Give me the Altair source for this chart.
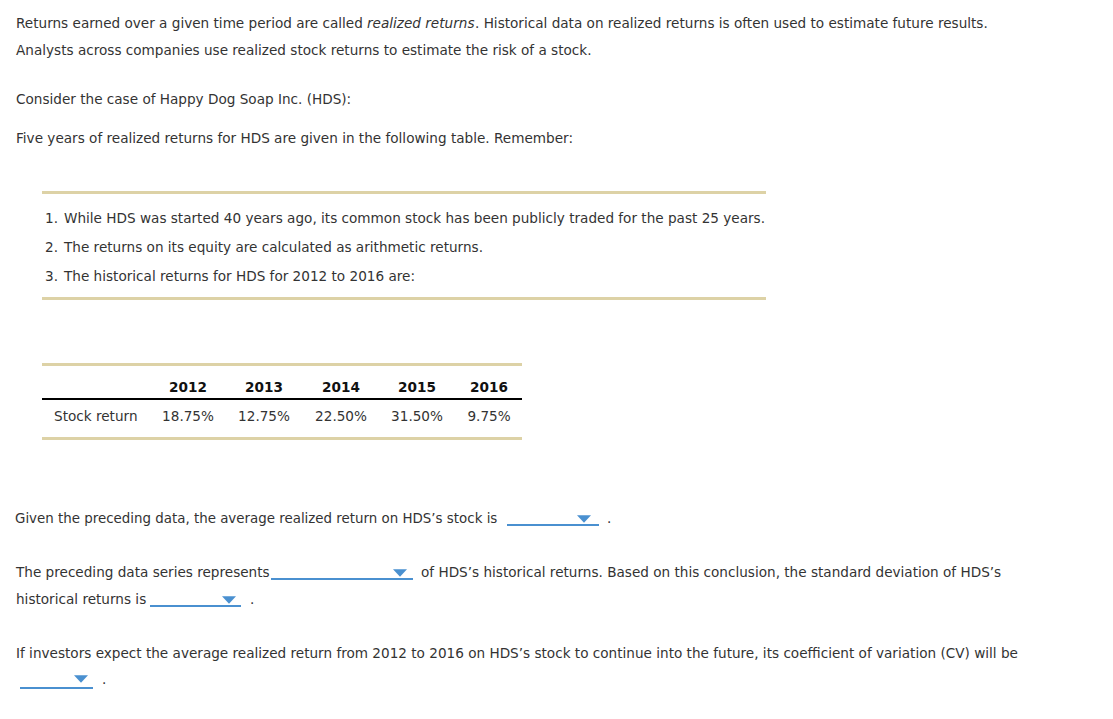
import altair as alt
import pandas as pd

# ---------------- content ----------------
intro_plain_1 = "Returns earned over a given time period are called "
intro_italic = "realized returns"
intro_plain_2 = ". Historical data on realized returns is often used to estimate future results."
intro_line_2 = "Analysts across companies use realized stock returns to estimate the risk of a stock."
consider = "Consider the case of Happy Dog Soap Inc. (HDS):"
five_years = "Five years of realized returns for HDS are given in the following table. Remember:"
remember_numbers = ["1.", "2.", "3."]
remember_items = [
    "While HDS was started 40 years ago, its common stock has been publicly traded for the past 25 years.",
    "The returns on its equity are calculated as arithmetic returns.",
    "The historical returns for HDS for 2012 to 2016 are:",
]
years = ["2012", "2013", "2014", "2015", "2016"]
row_label = "Stock return"
stock_returns = ["18.75%", "12.75%", "22.50%", "31.50%", "9.75%"]
q1 = "Given the preceding data, the average realized return on HDS\u2019s stock is"
q2a = "The preceding data series represents"
q2b = "of HDS\u2019s historical returns. Based on this conclusion, the standard deviation of HDS\u2019s"
q2c = "historical returns is"
q3 = ("If investors expect the average realized return from 2012 to 2016 on HDS\u2019s stock "
      "to continue into the future, its coefficient of variation (CV) will be")
period = "."

# ---------------- layout (page pixels) ----------------
FONT = "DejaVu Sans"
FS = 13.6
TEXT = "#333333"
TAN = "#DDD2A6"
BLUE = "#4A90D0"
W, H = 1097, 703
DY = 1  # baseline nudge

col_x = [188, 264, 341, 417, 489]

plain = [
    (intro_plain_1, 16, 27),
    (intro_plain_2, 475, 27),
    (intro_line_2, 16, 54),
    (consider, 16, 103),
    (five_years, 16, 142),
    (row_label, 54, 420),
    (q2a, 16, 576),
    (q2b, 421, 576),
    (q2c, 16, 603),
    (period, 250, 603),
    (q3, 16, 657),
    (period, 102, 683),
    (period, 607, 522),
]
for i, (n, t) in enumerate(zip(remember_numbers, remember_items)):
    plain.append((n, 45, 222 + 29 * i))
    plain.append((t, 64, 222 + 29 * i))

plain_df = pd.DataFrame(plain, columns=["text", "x", "y"])
plain_df["y"] += DY
q1_df = pd.DataFrame([(q1, 15, 522 + DY)], columns=["text", "x", "y"])
italic_df = pd.DataFrame([(intro_italic, 367, 27 + DY)], columns=["text", "x", "y"])
cell_df = pd.DataFrame({"text": stock_returns, "x": col_x, "y": [420 + DY] * 5})
head_df = pd.DataFrame({"text": years, "x": col_x, "y": [391 + DY] * 5})

rules_df = pd.DataFrame([
    (42, 766, 191, 194, TAN),
    (42, 766, 297, 300, TAN),
    (42, 522, 363, 366, TAN),
    (42, 522, 398, 400, "#000000"),
    (42, 522, 437, 440, TAN),
    (507, 599, 524, 526, BLUE),
    (271, 413, 578, 580, BLUE),
    (150, 241, 605, 607, BLUE),
    (20, 93, 687, 689, BLUE),
], columns=["x", "x2", "y", "y2", "c"])

tri_df = pd.DataFrame({"x": [584, 400, 229, 81], "y": [519, 573, 600, 679]})

xs = alt.Scale(domain=[8, 8 + W], nice=False, zero=False)
ys = alt.Scale(domain=[8, 8 + H], nice=False, zero=False, reverse=True)
X = alt.X("x:Q", scale=xs, axis=None)
Y = alt.Y("y:Q", scale=ys, axis=None)


def txt(df, align="left", color=TEXT, size=FS, **kw):
    return alt.Chart(df).mark_text(
        align=align, baseline="alphabetic", font=FONT, fontSize=size, color=color, **kw
    ).encode(x=X, y=Y, text="text:N")


rules = alt.Chart(rules_df).mark_rect().encode(
    x=X, x2="x2:Q", y=Y, y2="y2:Q", color=alt.Color("c:N", scale=None)
)
tris = alt.Chart(tri_df).mark_point(
    shape="M-1,-0.55L1,-0.55L0,0.55Z", filled=True, size=196, color=BLUE, opacity=1, strokeWidth=0
).encode(x=X, y=Y)

chart = alt.layer(
    rules,
    tris,
    txt(plain_df),
    txt(q1_df, size=13.4),
    txt(italic_df, fontStyle="italic"),
    txt(cell_df, align="center"),
    txt(head_df, align="center", fontWeight="bold", color="#111111"),
).properties(
    width=W, height=H, autosize=alt.AutoSizeParams(type="none"), padding=0, background="white"
).configure_view(stroke=None)

chart.save("out.html", embed_options={"renderer": "svg", "actions": False})
